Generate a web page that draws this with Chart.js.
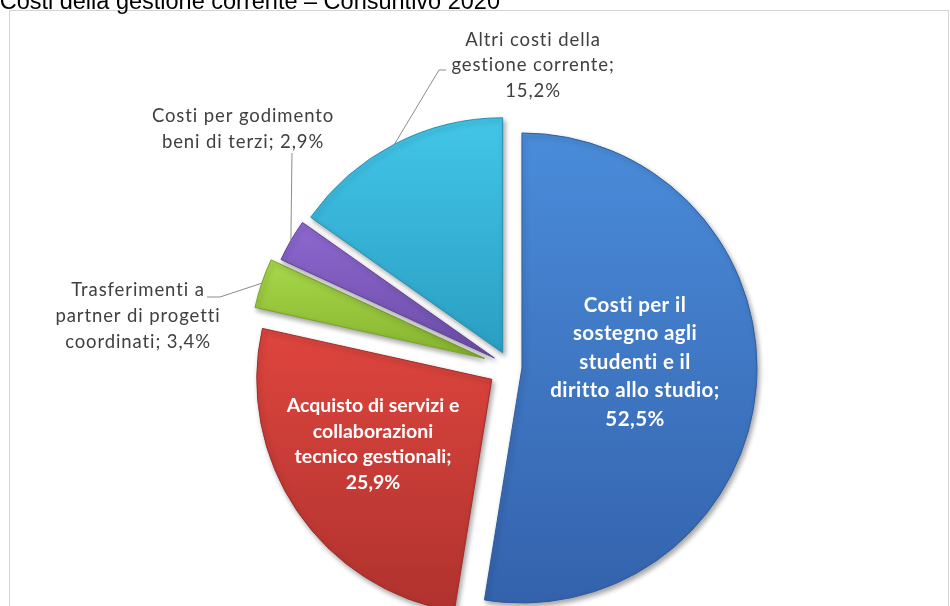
<!DOCTYPE html>
<html>
<head>
<meta charset="utf-8">
<script src="https://cdn.jsdelivr.net/npm/chart.js@4.4.1/dist/chart.umd.min.js"></script>
<style>
  html, body { margin: 0; padding: 0; background: #fff; }
  #wrap { width: 950px; height: 606px; position: relative; }
</style>
</head>
<body>
<div id="wrap"><canvas id="pie"></canvas></div>
<script>
// --- data ---
const title = 'Costi della gestione corrente – Consuntivo 2020';
const categories = [
    'Costi per il sostegno agli studenti e il diritto allo studio',
    'Acquisto di servizi e collaborazioni tecnico gestionali',
    'Trasferimenti a partner di progetti coordinati',
    'Costi per godimento beni di terzi',
    'Altri costi della gestione corrente'
];
const shares = [52.5, 25.9, 3.4, 2.9, 15.2];
// label text as it wraps in the picture
const labelLines = [
    ['Costi per il', 'sostegno agli', 'studenti e il', 'diritto allo studio;'],
    ['Acquisto di servizi e', 'collaborazioni', 'tecnico gestionali;'],
    ['Trasferimenti a', 'partner di progetti', 'coordinati;'],
    ['Costi per godimento', 'beni di terzi;'],
    ['Altri costi della', 'gestione corrente;']
];

// --- styles ---
const lightColors = ['#4a8cda', '#de453e', '#a8d84a', '#8e68d0', '#42c6e8'];
const darkColors = ['#3462ac', '#b0322e', '#86b32e', '#6b4ca6', '#2a9ec3'];
const edgeColors = ['#2f5c9e', '#9e2e2a', '#7aa32a', '#5f4496', '#2690b2'];
const explodePx = [12, 22, 27, 18, 16];   // how far each slice is pulled out

// where each label sits, and the bend points of its leader line
const labelLayout = [
    { x: 635, y: 362, lh: 28.5, font: 'bold 20.5px Lato', spacing: '0.4px', color: '#ffffff' },
    { x: 373, y: 444, lh: 25.5, font: 'bold 19.5px Lato', spacing: '0px', color: '#ffffff' },
    { x: 138, y: 316, lh: 26, inline: true, leader: [[220, 297], [207, 297]] },
    { x: 243, y: 129, lh: 26, inline: true, leader: [[292, 153]] },
    { x: 533, y: 65.5, lh: 25.5, leader: [[439, 70], [446, 70]] }
];

const fmtPct = v => v.toFixed(1).replace('.', ',') + '%';

function sliceShift(arc, i) {
    const { startAngle, endAngle } = arc.getProps(['startAngle', 'endAngle']);
    const mid = (startAngle + endAngle) / 2;
    return { dx: Math.cos(mid) * explodePx[i], dy: Math.sin(mid) * explodePx[i], mid };
}

const explodedPie = {
    id: 'explodedPie',
    beforeDatasetDraw(chart, args) {
        const ctx = chart.ctx;
        const meta = args.meta;
        ctx.save();
        ctx.shadowColor = 'rgba(0,0,0,0.35)';
        ctx.shadowBlur = 5;
        ctx.shadowOffsetX = 2;
        ctx.shadowOffsetY = 3;
        meta.data.forEach((arc, i) => {
            const { y, startAngle, endAngle, outerRadius } =
                arc.getProps(['y', 'startAngle', 'endAngle', 'outerRadius']);
            const ys = [y, y + Math.sin(startAngle) * outerRadius, y + Math.sin(endAngle) * outerRadius];
            if (startAngle < Math.PI / 2 && endAngle > Math.PI / 2) ys.push(y + outerRadius);
            if (startAngle <= -Math.PI / 2 + 1e-6 || endAngle >= 1.5 * Math.PI - 1e-6) ys.push(y - outerRadius);
            const g = ctx.createLinearGradient(0, Math.min(...ys), 0, Math.max(...ys));
            g.addColorStop(0, lightColors[i]);
            g.addColorStop(1, darkColors[i]);
            arc.options.backgroundColor = g;

            const s = sliceShift(arc, i);
            ctx.save();
            ctx.translate(s.dx, s.dy);
            arc.draw(ctx);
            ctx.restore();
        });
        ctx.restore();
        return false;
    },
    afterDatasetsDraw(chart) {
        const ctx = chart.ctx;
        const meta = chart.getDatasetMeta(0);
        meta.data.forEach((arc, i) => {
            const L = labelLayout[i];
            const lines = labelLines[i].slice();
            const pct = fmtPct(shares[i]);
            if (L.inline) lines[lines.length - 1] += ' ' + pct;
            else lines.push(pct);

            if (L.leader) {
                const { x, y, outerRadius } = arc.getProps(['x', 'y', 'outerRadius']);
                const s = sliceShift(arc, i);
                const ex = x + s.dx + Math.cos(s.mid) * outerRadius;
                const ey = y + s.dy + Math.sin(s.mid) * outerRadius;
                ctx.save();
                ctx.strokeStyle = '#8c8c8c';
                ctx.lineWidth = 1;
                ctx.beginPath();
                ctx.moveTo(ex, ey);
                L.leader.forEach(p => ctx.lineTo(p[0], p[1]));
                ctx.stroke();
                ctx.restore();
            }

            ctx.save();
            ctx.textAlign = 'center';
            ctx.textBaseline = 'middle';
            ctx.font = L.font || '18.5px Lato';
            ctx.fillStyle = L.color || '#404040';
            ctx.letterSpacing = L.spacing || '0.9px';
            const y0 = L.y - (lines.length - 1) / 2 * L.lh;
            lines.forEach((t, k) => ctx.fillText(t, L.x, y0 + k * L.lh));
            ctx.restore();
        });
    },
    beforeDraw(chart) {
        const ctx = chart.ctx;
        ctx.save();
        ctx.fillStyle = '#ffffff';
        ctx.fillRect(0, 0, chart.width, chart.height);
        ctx.strokeStyle = '#d4d4d4';
        ctx.lineWidth = 1;
        ctx.strokeRect(9.5, 10.5, 939, 620);
        ctx.restore();
    },
    afterDraw(chart) {
        const ctx = chart.ctx;
        ctx.save();
        ctx.font = '23.5px "Liberation Sans", Arial, sans-serif';
        ctx.fillStyle = '#000000';
        ctx.textAlign = 'right';
        ctx.textBaseline = 'alphabetic';
        ctx.fillText(title, 500, 8.5);
        ctx.restore();
    }
};

new Chart(document.getElementById('pie'), {
    type: 'pie',
    data: {
        labels: categories,
        datasets: [{
            data: shares,
            backgroundColor: lightColors,
            borderColor: edgeColors,
            borderWidth: 1,
            radius: 235
        }]
    },
    options: {
        responsive: true,
        maintainAspectRatio: false,
        animation: false,
        layout: { padding: { left: 70, right: 0, top: 128, bottom: 0 } },
        plugins: {
            legend: { display: false },
            tooltip: { enabled: false }
        }
    },
    plugins: [explodedPie]
});
</script>
</body>
</html>
